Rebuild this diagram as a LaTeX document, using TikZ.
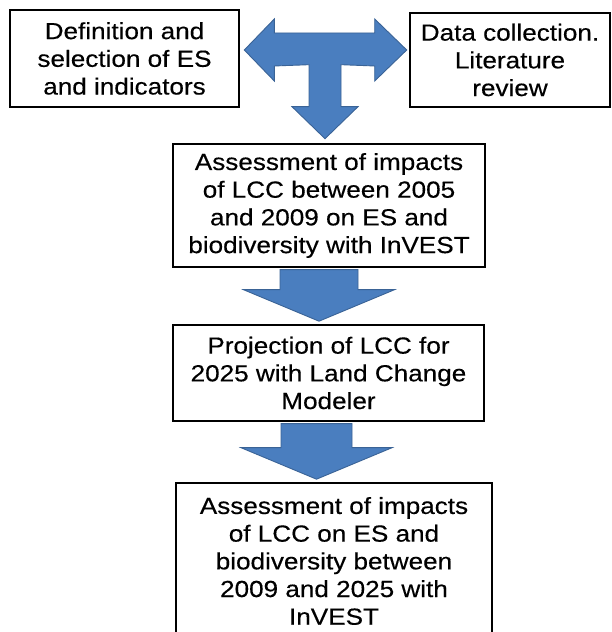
\documentclass[tikz,border=0pt]{standalone}
\usepackage{fontspec}
\setmainfont{Liberation Sans}
\newfontfamily\boxfont[FakeStretch=1.12, FakeBold=0.35]{Liberation Sans}
\usetikzlibrary{calc}
\definecolor{arrowblue}{HTML}{4A7EBF}
\definecolor{arrowedge}{HTML}{3A6396}
\tikzset{
    stepbox/.style={draw=black, line width=2.6pt, fill=white, align=center, inner sep=0pt,
        font=\boxfont\fontsize{23.3}{27.7}\selectfont},
    blockarrow/.style={fill=arrowblue, draw=arrowedge, line width=0.9pt}
}
\begin{document}
\begin{tikzpicture}[x=1pt,y=1pt]
        \useasboundingbox (0,0) rectangle (612,632);
        \clip (0,0) rectangle (612,632);
        % boxes
        \node[stepbox, minimum width=229pt, minimum height=97pt] (def) at (124.5,573.5) {Definition and\\selection of ES\\and indicators};
        \node[stepbox, minimum width=200pt, minimum height=94pt] (data) at (510,572) {Data collection.\\Literature\\review};
        \node[stepbox, minimum width=312pt, minimum height=123pt] (assess) at (329,426.5) {Assessment of impacts\\of LCC between 2005\\and 2009 on ES and\\biodiversity with InVEST};
        \node[stepbox, minimum width=311pt, minimum height=96pt] (proj) at (328.5,259) {Projection of LCC for\\2025 with Land Change\\Modeler};
        \node[stepbox, minimum width=316pt, minimum height=156pt] (final) at (334,71) {Assessment of impacts\\of LCC on ES and\\biodiversity between\\2009 and 2025 with\\InVEST};
        % T-shaped arrow
        \coordinate (tl) at ($(def.east)+(4,8.5)$);
        \coordinate (tr) at ($(data.west)+(-2,10)$);
        \coordinate (td) at ($(325,0 |- assess.north)+(0,4)$);
        \draw[blockarrow] (tl) -- ++(30,31) -- ++(0,-14) -- ($(tr)+(-32,17)$) -- ++(0,14) -- (tr)
            -- ++(-32,-31) -- ++(0,15) -- ($(td)+(16,74)$) -- ($(td)+(16,32)$) -- ($(td)+(33,32)$)
            -- (td) -- ($(td)+(-33,32)$) -- ($(td)+(-16,32)$) -- ($(td)+(-16,74)$)
            -- ($(tl)+(30,-16)$) -- ++(0,-15) -- cycle;
        % down arrows
        \foreach \src/\dst/\cx/\sw in {assess/proj/319/39, proj/final/316.5/35.5} {
            \draw[blockarrow] ($({\cx-\sw},0 |- \src.south)+(0,-1.4)$) -- ($({\cx+\sw},0 |- \src.south)+(0,-1.4)$)
                -- ($({\cx+\sw},0 |- \dst.north)+(0,34)$) -- ($({\cx+75.5},0 |- \dst.north)+(0,34)$)
                -- ($(\cx,0 |- \dst.north)+(0,2.5)$) -- ($({\cx-75.5},0 |- \dst.north)+(0,34)$)
                -- ($({\cx-\sw},0 |- \dst.north)+(0,34)$) -- cycle;
        }
    \end{tikzpicture}
\end{document}
